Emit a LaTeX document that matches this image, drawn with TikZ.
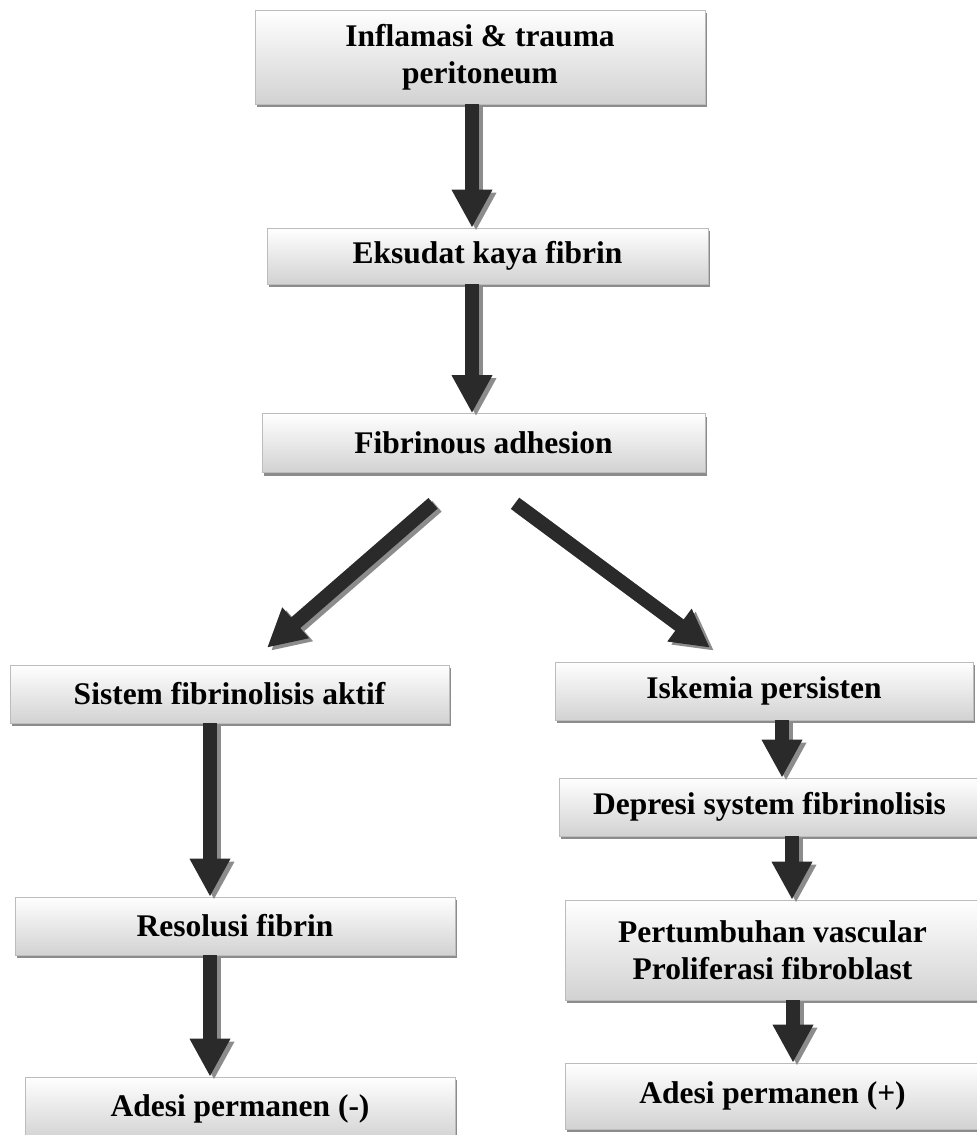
\documentclass[tikz,border=0pt]{standalone}
\usepackage{fontspec}
\setmainfont{Liberation Serif}
\usetikzlibrary{arrows.meta,shadows}
\definecolor{AbuGelap}{RGB}{42,42,42}
\definecolor{AbuBayang}{RGB}{140,140,140}
\definecolor{AbuPucat}{RGB}{210,210,210}
\definecolor{AbuGaris}{RGB}{188,188,188}
\tikzset{
  kotak/.style={draw=AbuGaris, line width=0.6pt, top color=white, bottom color=AbuPucat,
    align=center, minimum width=#1, minimum height=58pt, inner sep=2pt,
    font=\fontsize{31.5pt}{37pt}\selectfont\bfseries,
    drop shadow={shadow xshift=1.5pt, shadow yshift=-3pt, fill=AbuBayang, opacity=1}},
  kotak/.default=440pt,
  % ---- panah blok dengan bayangan abu-abu ----
  panah/.style={-{Triangle[length=38pt, width=38pt]}, line width=14pt, AbuGelap,
    preaction={draw=AbuBayang, -{Triangle[length=38pt, width=38pt]}, line width=14pt,
      transform canvas={shift={(4pt,-3pt)}}}},
}

\begin{document}
\begin{tikzpicture}[x=1pt, y=-1pt]
    \useasboundingbox (0,0) rectangle (977,1135);

    \node[kotak=450pt, minimum height=94pt] (radang) at (480,57) {Inflamasi \& trauma\\ peritoneum};
    \node[kotak=441pt, minimum height=56pt] (eksudat) at (487.5,256) {Eksudat kaya fibrin};
    \node[kotak=443pt, minimum height=59pt] (fibrinosa) at (483.5,443) {Fibrinous adhesion};
    \draw[panah] ([xshift=-8pt]radang.south) -- ([xshift=-15.5pt]eksudat.north);
    \draw[panah] ([xshift=-15.5pt]eksudat.south) -- ([xshift=-11.5pt]fibrinosa.north);

    \node[kotak=439pt] (fibrinolisis) at (229.5,694) {Sistem fibrinolisis aktif};
    \node[kotak=440pt] (resolusi) at (235,926) {Resolusi fibrin};
    \node[kotak=430pt, minimum height=63pt] (adesiNeg) at (240,1108.5) {Adesi permanen (-)};
    \draw[panah] ([xshift=-50.5pt, yshift=-30.5pt]fibrinosa.south) -- ([xshift=37.5pt, yshift=17pt]fibrinolisis.north);
    \draw[panah] ([xshift=-19.5pt]fibrinolisis.south) -- ([xshift=-25pt]resolusi.north);
    \draw[panah] ([xshift=-25pt]resolusi.south) -- ([xshift=-30pt]adesiNeg.north);

    \node[kotak=418pt] (iskemia) at (764,691) {Iskemia persisten};
    \node[kotak=421pt] (depresi) at (769.5,807) {Depresi system fibrinolisis};
    \node[kotak=415pt, minimum height=100pt] (vaskular) at (772.5,950) {Pertumbuhan vascular\\ Proliferasi fibroblast};
    \node[kotak=415pt, minimum height=66pt] (adesiPos) at (772.5,1096) {Adesi permanen (+)};
    \draw[panah] ([xshift=31.5pt, yshift=-30.5pt]fibrinosa.south) -- ([xshift=-54pt, yshift=14pt]iskemia.north);
    \draw[panah] ([xshift=18pt]iskemia.south) -- ([xshift=12.5pt]depresi.north);
    \draw[panah] ([xshift=22.5pt]depresi.south) -- ([xshift=19.5pt]vaskular.north);
    \draw[panah] ([xshift=20.5pt]vaskular.south) -- ([xshift=20.5pt]adesiPos.north);
\end{tikzpicture}
\end{document}
